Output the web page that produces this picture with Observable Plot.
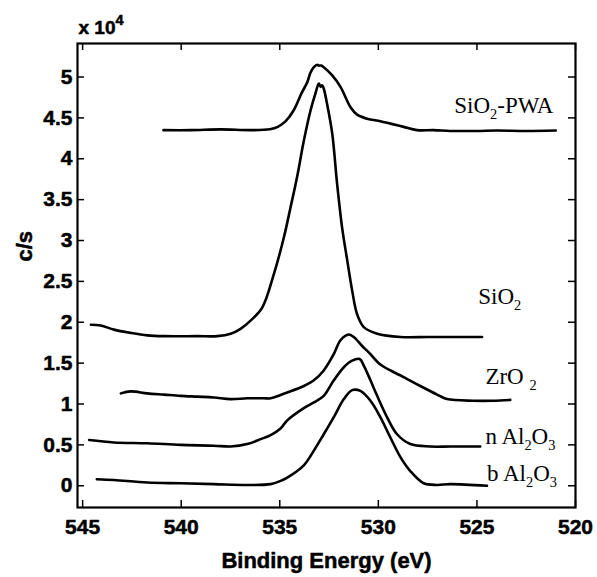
<!DOCTYPE html>
<html><head><meta charset="utf-8">
<script src="https://cdn.jsdelivr.net/npm/d3@7"></script>
<script src="https://cdn.jsdelivr.net/npm/@observablehq/plot@0.6"></script>
<style>
body{margin:0;background:#fff}#chart{width:597px;height:577px}
</style>
</head><body><div id="chart"></div>
<script>
// Binding energy (eV) and intensity (c/s, x 10^4)
const pwaE = [540.9,539.5,538.0,536.5,535.5,535.1,534.7,534.3,533.9,533.6,533.45,533.27,533.1,533.02,532.9,532.77,532.34,531.92,531.41,531.08,530.57,529.9,529.39,528.72,528.04,527.2,526.35,525.0,524.0,522.5,521.0];
const pwaC = [4.35,4.35,4.36,4.35,4.36,4.39,4.46,4.59,4.8,4.94,5.05,5.12,5.15,5.14,5.14,5.12,5.02,4.88,4.63,4.54,4.49,4.46,4.43,4.39,4.35,4.35,4.34,4.34,4.345,4.34,4.345];

const sioE = [544.58,544.08,543.41,542.56,541.72,540.87,539.18,538.17,537.49,536.99,536.48,535.89,535.3,534.79,534.45,534.12,533.78,533.44,533.19,533.02,532.93,532.85,532.77,532.6,532.34,532.09,531.84,531.58,531.33,531.08,530.74,530.06,528.88,527.5,526.35,524.74];
const sioC = [1.97,1.96,1.91,1.87,1.84,1.83,1.83,1.83,1.86,1.92,2.02,2.18,2.59,3.04,3.41,3.78,4.22,4.59,4.8,4.92,4.88,4.9,4.86,4.67,4.31,3.69,3.16,2.76,2.39,2.1,1.94,1.86,1.82,1.82,1.82,1.82];

const zrE = [543.06,542.56,541.72,540.87,540.03,539.18,538.34,537.49,536.65,535.81,535.46,534.96,534.62,533.78,533.27,532.77,532.26,531.92,531.5,531.25,530.82,530.4,529.98,529.39,528.72,527.87,527.02,526.52,525.17,524.2,523.31];
const zrC = [1.13,1.155,1.13,1.115,1.1,1.09,1.08,1.06,1.07,1.07,1.07,1.11,1.14,1.22,1.29,1.41,1.61,1.78,1.85,1.82,1.71,1.61,1.5,1.41,1.33,1.22,1.115,1.06,1.04,1.04,1.05];

const nalE = [544.67,543.41,541.72,540.03,538.34,537.49,536.65,535.97,535.46,534.96,534.62,533.78,533.27,532.77,532.26,531.75,531.33,530.95,530.74,530.4,530.06,529.56,529.05,528.38,527.37,526.35,524.83];
const nalC = [0.56,0.53,0.52,0.5,0.49,0.48,0.51,0.57,0.62,0.7,0.8,0.95,1.02,1.1,1.29,1.45,1.53,1.55,1.47,1.29,1.1,0.84,0.63,0.51,0.48,0.48,0.48];

const balE = [544.28,543.41,541.72,540.03,538.34,536.65,535.46,534.96,534.62,533.78,533.27,532.77,532.26,531.75,531.33,530.91,530.4,529.9,529.39,528.88,528.38,527.7,527.02,526.35,524.49];
const balC = [0.08,0.07,0.04,0.03,0.02,0.01,0.02,0.06,0.1,0.25,0.43,0.63,0.84,1.06,1.17,1.16,1.04,0.84,0.59,0.35,0.18,0.03,0.01,0.02,0.0];

const seriesNames = ["SiO2-PWA","SiO2","ZrO2","n Al2O3","b Al2O3"];
const seriesE = [pwaE, sioE, zrE, nalE, balE];
const seriesC = [pwaC, sioC, zrC, nalC, balC];

// label text (with _{sub} markup) and anchor positions in data units
const labelText = ["SiO_{2}-PWA","SiO_{2}","ZrO _{2}","n Al_{2}O_{3}","b Al_{2}O_{3}"];
const labelE = [526.15, 524.93, 524.57, 524.57, 524.49];
const labelC = [4.645, 2.31, 1.33, 0.60, 0.147];

const xTicks = [545,540,535,530,525,520];
const yTicks = [0,0.5,1,1.5,2,2.5,3,3.5,4,4.5,5];
const xDomain = [545.26, 520];
const yDomain = [-0.266, 5.41];

const W = 597, H = 577, ML = 77, MR = 22, MT = 43, MB = 70;
const innerW = W - ML - MR, innerH = H - MT - MB, TL = 7;

const rows = seriesNames.flatMap((s, k) => seriesE[k].map((e, i) => ({series: s, e, c: seriesC[k][i]})));
const labels = labelText.map((t, i) => ({t, e: labelE[i], c: labelC[i]}));

const sans = "Liberation Sans, Arial, sans-serif";
const serif = "Liberation Serif, Times New Roman, serif";
const heavy = {stroke: "#000", strokeWidth: 0.5};

const chart = Plot.plot({
  width: W, height: H,
  marginLeft: ML, marginRight: MR, marginTop: MT, marginBottom: MB,
  style: {fontFamily: sans, fontWeight: "bold", background: "#fff", color: "#000"},
  x: {domain: xDomain},
  y: {domain: yDomain},
  marks: [
    Plot.line(rows, {x: "e", y: "c", z: "series", stroke: "#000", strokeWidth: 2.6, curve: "catmull-rom"}),
    Plot.tickX(xTicks, {x: d => d, insetTop: innerH - TL, stroke: "#000", strokeWidth: 1.5}),
    Plot.tickX(xTicks, {x: d => d, insetBottom: innerH - TL, stroke: "#000", strokeWidth: 1.5}),
    Plot.tickY(yTicks, {y: d => d, insetRight: innerW - TL, stroke: "#000", strokeWidth: 1.5}),
    Plot.tickY(yTicks, {y: d => d, insetLeft: innerW - TL, stroke: "#000", strokeWidth: 1.5}),
    Plot.frame({stroke: "#000", strokeWidth: 2.2}),
    Plot.axisX(xTicks, {tickSize: 0, tickPadding: 12, fontSize: 21, label: null, tickFormat: d => String(d), textStroke: "#000", textStrokeWidth: 0.5}),
    Plot.axisY(yTicks, {tickSize: 0, tickPadding: 5, fontSize: 21, label: null, tickFormat: d => String(d), textStroke: "#000", textStrokeWidth: 0.5}),
    Plot.text(labels, {x: "e", y: "c", text: "t", textAnchor: "start", lineAnchor: "middle", fontFamily: serif, fontWeight: "normal", fontSize: 23, fill: "#000"}),
    Plot.text(["Binding Energy (eV)"], {frameAnchor: "bottom", dy: 53, lineAnchor: "middle", fontSize: 22, fill: "#000", ...heavy}),
    Plot.text(["c/s"], {frameAnchor: "left", dx: -53, dy: -14, rotate: -90, lineAnchor: "middle", fontSize: 22, fill: "#000", ...heavy}),
    Plot.text(["x 10^{4}"], {frameAnchor: "top-left", dx: 1, dy: -10, textAnchor: "start", lineAnchor: "bottom", fontSize: 19, fill: "#000", ...heavy})
  ]
});

// convert _{..} / ^{..} markup into real sub/superscript tspans
chart.querySelectorAll("text").forEach(t => {
  const s = t.textContent;
  if (!/[_^]\{/.test(s)) return;
  const fs = parseFloat(getComputedStyle(t).fontSize) || 20;
  while (t.firstChild) t.removeChild(t.firstChild);
  const re = /([_^])\{([^}]*)\}/g;
  let last = 0, m, shift = 0;
  const add = (txt, kind) => {
    const sp = document.createElementNS("http://www.w3.org/2000/svg", "tspan");
    let target = kind === "sub" ? fs * 0.28 : kind === "sup" ? -fs * 0.42 : 0;
    const d = target - shift;
    if (d !== 0) sp.setAttribute("dy", d);
    shift = target;
    if (kind) sp.setAttribute("font-size", fs * 0.72);
    sp.textContent = txt;
    t.appendChild(sp);
  };
  while ((m = re.exec(s))) {
    if (m.index > last) add(s.slice(last, m.index), null);
    add(m[2], m[1] === "_" ? "sub" : "sup");
    last = re.lastIndex;
  }
  if (last < s.length) add(s.slice(last), null);
});

document.getElementById("chart").appendChild(chart);
</script>
</body></html>
